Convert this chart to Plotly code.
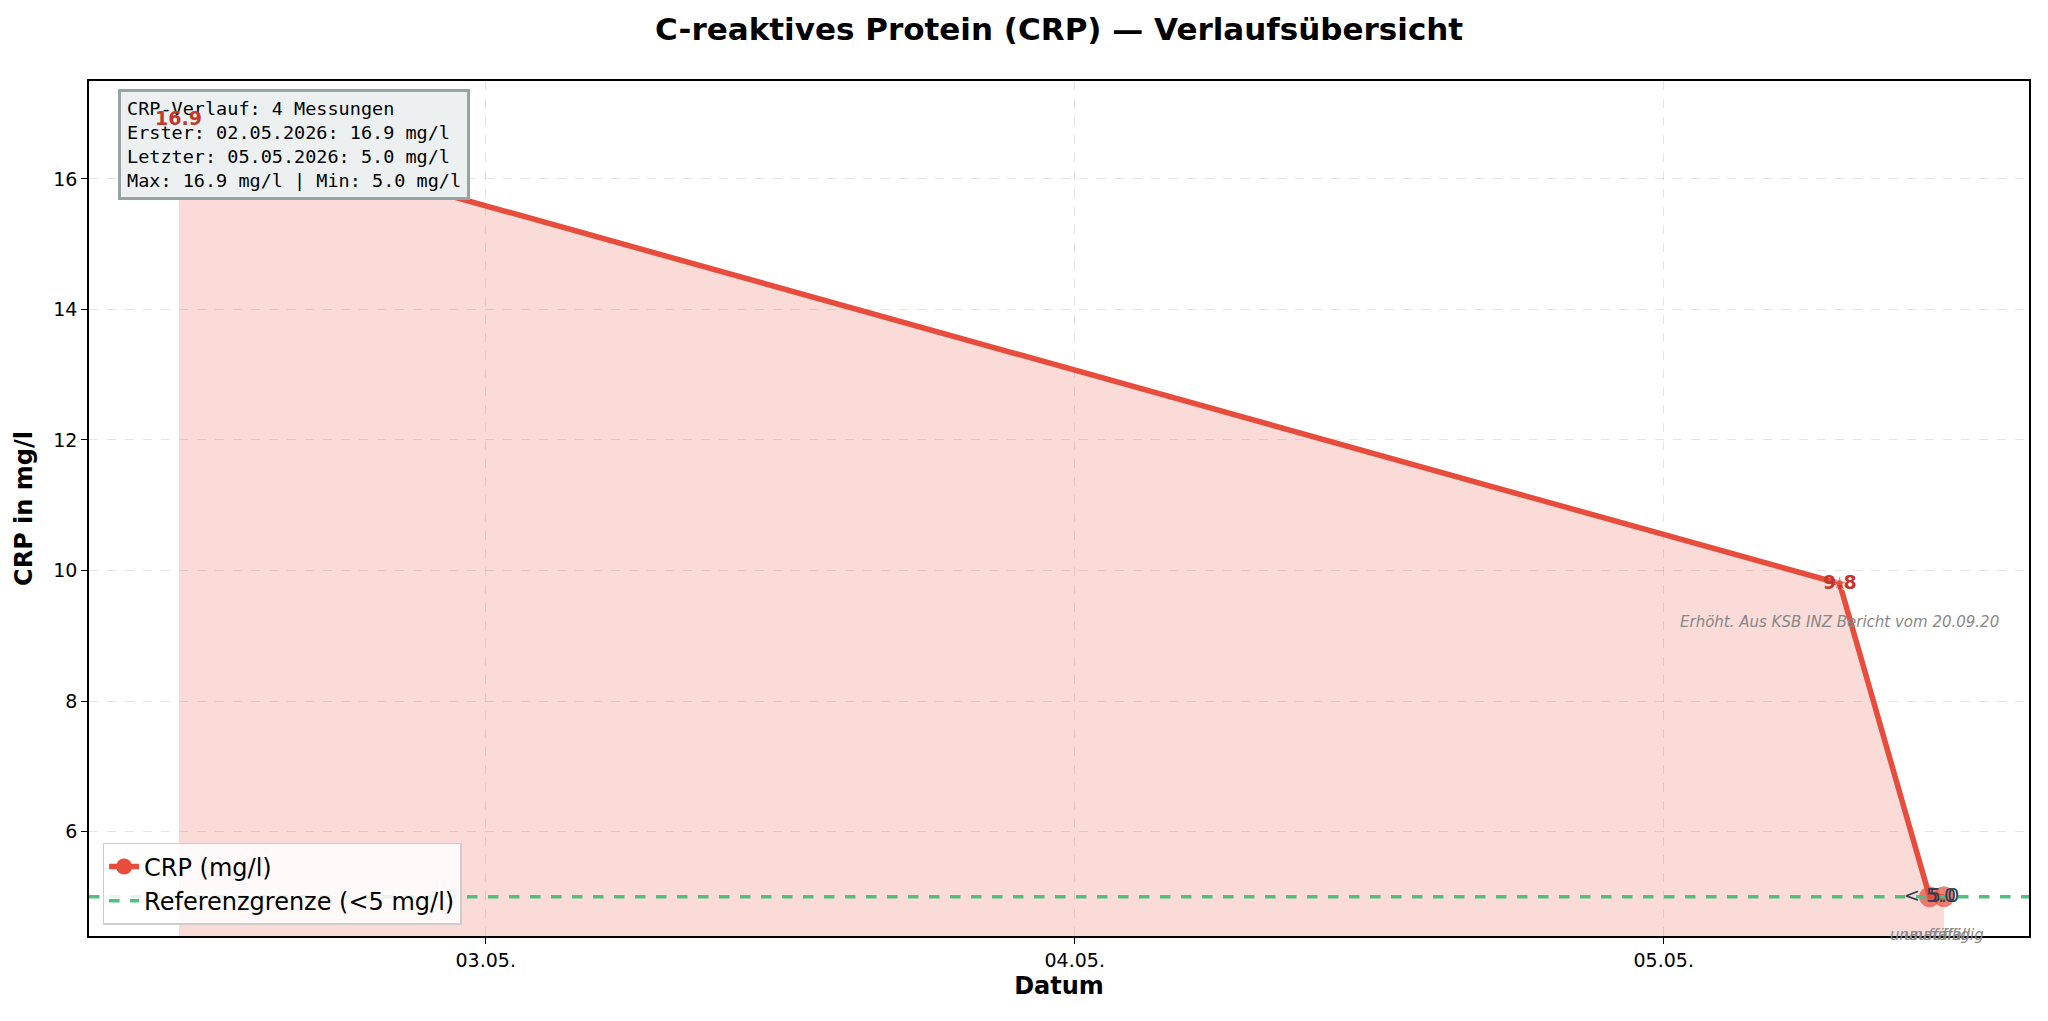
"""
CRP-Verlauf: Linie mit Fläche, Referenzgrenze und Infobox.
"""

import plotly.graph_objects as go

DATES = ["2026-05-02 11:30", "2026-05-05 07:10", "2026-05-05 10:50", "2026-05-05 11:25"]
CRP = [16.9, 9.8, 5.0, 5.0]
LABELS = ["16.9", "9.8", "< 5.0", "5.0"]
NOTES = ["", "Erhöht. Aus KSB INZ Bericht vom 20.09.20", "unauffällig", "unauffällig"]
ELEVATED = [True, True, False, False]
REF_LIMIT = 5.0
X_TICKS = ["2026-05-03", "2026-05-04", "2026-05-05"]
X_TICK_TEXT = ["03.05.", "04.05.", "05.05."]
Y_TICKS = [6, 8, 10, 12, 14, 16]

RED = "#E74C3C"
DARK_RED = "#C0392B"
GREEN = "#52BE80"
FONT = "DejaVu Sans"

fig = go.Figure()

fig.add_trace(
    go.Scatter(
        x=DATES,
        y=CRP,
        mode="lines",
        line={"color": RED, "width": 5.5},
        fill="tozeroy",
        fillcolor="rgba(231, 76, 60, 0.2)",
        showlegend=False,
        hoverinfo="skip",
    )
)

fig.add_trace(
    go.Scatter(
        x=DATES,
        y=CRP,
        mode="markers",
        marker={
            "color": RED,
            "size": [12 if e else 20 for e in ELEVATED],
            "symbol": ["star" if e else "circle" for e in ELEVATED],
            "line": {"color": ["white" if e else RED for e in ELEVATED], "width": 1},
        },
        showlegend=False,
    )
)

# Legendeneinträge
fig.add_trace(
    go.Scatter(
        x=[None],
        y=[None],
        mode="lines+markers",
        name="CRP (mg/l)",
        line={"color": RED, "width": 5.5},
        marker={"color": RED, "size": 20},
    )
)
fig.add_trace(
    go.Scatter(
        x=[None],
        y=[None],
        mode="lines",
        name="Referenzgrenze (<5 mg/l)",
        line={"color": GREEN, "width": 3.5, "dash": "dash"},
    )
)

fig.add_hline(y=REF_LIMIT, line={"color": GREEN, "width": 3.5, "dash": "dash"})

info = (
    f"CRP-Verlauf: {len(CRP)} Messungen<br>"
    f"Erster: 02.05.2026: {CRP[0]:.1f} mg/l<br>"
    f"Letzter: 05.05.2026: {CRP[-1]:.1f} mg/l<br>"
    f"Max: {max(CRP):.1f} mg/l | Min: {min(CRP):.1f} mg/l"
)
fig.add_annotation(
    xref="paper",
    yref="paper",
    x=0.0147,
    y=0.991,
    xanchor="left",
    yanchor="top",
    text=info,
    align="left",
    showarrow=False,
    font={"family": "DejaVu Sans Mono", "size": 18.5, "color": "black"},
    bgcolor="#ECF0F1",
    bordercolor="#95A5A6",
    borderwidth=3,
    borderpad=6,
)

for date, value, label, note, elevated in zip(DATES, CRP, LABELS, NOTES, ELEVATED):
    fig.add_annotation(
        x=date,
        y=value,
        text=f"<b>{label}</b>" if elevated else label,
        showarrow=False,
        font={"family": FONT, "size": 19, "color": DARK_RED if elevated else "#2C3E50"},
        yshift=2,
    )
    if note:
        fig.add_annotation(
            x=date,
            y=value,
            text=f"<i>{note}</i>",
            showarrow=False,
            font={"family": FONT, "size": 15, "color": "#888888"},
            yshift=-38,
        )

axis_common = {
    "showline": True,
    "linecolor": "black",
    "linewidth": 1.5,
    "mirror": True,
    "ticks": "outside",
    "ticklen": 6,
    "tickcolor": "black",
    "showgrid": True,
    "gridcolor": "rgba(0,0,0,0.1)",
    "griddash": "dash",
    "zeroline": False,
    "tickfont": {"family": FONT, "size": 19, "color": "black"},
}

fig.update_layout(
    width=2032,
    height=1005,
    plot_bgcolor="white",
    paper_bgcolor="white",
    font={"family": FONT},
    title={
        "text": "<b>C-reaktives Protein (CRP) — Verlaufsübersicht</b>",
        "x": 0.5173,
        "xanchor": "center",
        "y": 0.979,
        "yanchor": "middle",
        "font": {"family": FONT, "size": 31, "color": "black"},
    },
    xaxis={
        **axis_common,
        "type": "date",
        "range": ["2026-05-02 07:50", "2026-05-05 14:53"],
        "tickvals": X_TICKS,
        "ticktext": X_TICK_TEXT,
        "title": {"text": "<b>Datum</b>", "font": {"family": FONT, "size": 24, "color": "black"}, "standoff": 8},
    },
    yaxis={
        **axis_common,
        "range": [4.4, 17.5],
        "tickvals": Y_TICKS,
        "title": {"text": "<b>CRP in mg/l</b>", "font": {"family": FONT, "size": 24, "color": "black"}, "standoff": 14},
    },
    legend={
        "x": 0.007,
        "y": 0.013,
        "xanchor": "left",
        "yanchor": "bottom",
        "bgcolor": "rgba(255,255,255,0.85)",
        "bordercolor": "#CCCCCC",
        "borderwidth": 1.5,
        "font": {"family": FONT, "size": 24, "color": "black"},
    },
    margin={"l": 81, "r": 9, "t": 73, "b": 77},
)

fig.write_html("out.html")
